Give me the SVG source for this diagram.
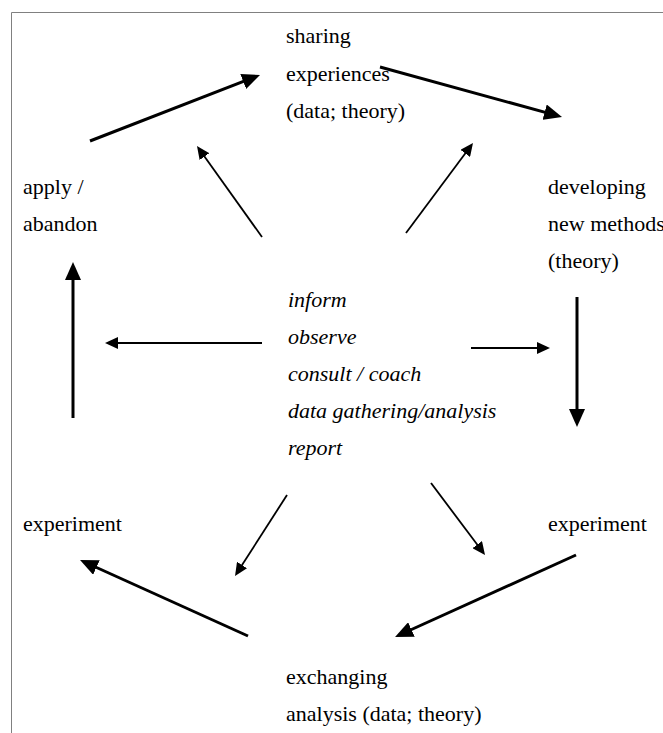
<svg xmlns="http://www.w3.org/2000/svg" width="663" height="733" viewBox="0 0 663 733">
<style>
.lbl{font-family:'Liberation Serif','Times New Roman',serif;font-size:22px;fill:#000}
.it{font-style:italic}
.thick{stroke:#000;stroke-width:3;fill:none;marker-end:url(#mThick)}
.thin{stroke:#000;stroke-width:1.8;fill:none;marker-end:url(#mThin)}
</style>
<defs>
<marker id="mThick" markerUnits="userSpaceOnUse" markerWidth="18" markerHeight="16" refX="12" refY="8" orient="auto"><path d="M0,0 L18,8 L0,16 z" fill="#000"/></marker>
<marker id="mThin" markerUnits="userSpaceOnUse" markerWidth="13" markerHeight="12" refX="9" refY="6" orient="auto"><path d="M0,0 L13,6 L0,12 z" fill="#000"/></marker>
</defs>
<rect width="663" height="733" fill="#fff"/>
<path d="M11.5,733 V12.5 H663" stroke="#808080" stroke-width="1" fill="none"/>
<g id="connectors">
<line class="thick" x1="90" y1="141" x2="254.4" y2="77.2"/>
<line class="thick" x1="380" y1="67" x2="556.2" y2="115.4"/>
<line class="thick" x1="577" y1="297" x2="577" y2="421"/>
<line class="thick" x1="576" y1="555" x2="400.5" y2="634.5"/>
<line class="thick" x1="248" y1="636" x2="85.5" y2="562.5"/>
<line class="thick" x1="73" y1="418" x2="73" y2="268"/>
<line class="thin" x1="262" y1="237" x2="199.3" y2="149.3"/>
<line class="thin" x1="406" y1="233" x2="470.6" y2="146.2"/>
<line class="thin" x1="262" y1="343" x2="109" y2="343"/>
<line class="thin" x1="471" y1="348" x2="546" y2="348"/>
<line class="thin" x1="287" y1="495" x2="237.2" y2="572.6"/>
<line class="thin" x1="431" y1="483" x2="482.6" y2="551.8"/>
</g>
<g id="sharing">
<text class="lbl" x="286" y="43">sharing</text>
<text class="lbl" x="286" y="81">experiences</text>
<text class="lbl" x="286" y="118">(data; theory)</text>
</g>
<g id="apply">
<text class="lbl" x="23" y="194">apply /</text>
<text class="lbl" x="23" y="231">abandon</text>
</g>
<g id="developing">
<text class="lbl" x="548" y="194">developing</text>
<text class="lbl" x="548" y="231">new methods</text>
<text class="lbl" x="548" y="268">(theory)</text>
</g>
<g id="center">
<text class="lbl it" x="288" y="307">inform</text>
<text class="lbl it" x="288" y="344">observe</text>
<text class="lbl it" x="288" y="381">consult / coach</text>
<text class="lbl it" x="288" y="418">data gathering/analysis</text>
<text class="lbl it" x="288" y="455">report</text>
</g>
<g id="experiment-left">
<text class="lbl" x="23" y="531">experiment</text>
</g>
<g id="experiment-right">
<text class="lbl" x="548" y="531">experiment</text>
</g>
<g id="exchanging">
<text class="lbl" x="286" y="684">exchanging</text>
<text class="lbl" x="286" y="721">analysis (data; theory)</text>
</g>
</svg>
